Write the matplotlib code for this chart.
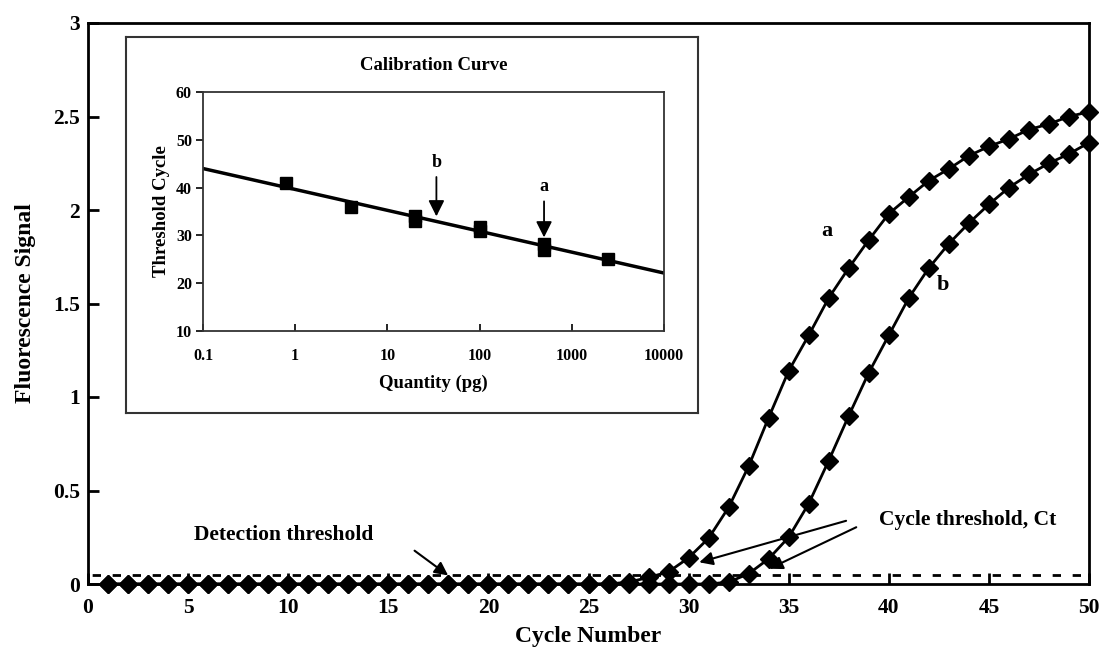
import numpy as np
import matplotlib
matplotlib.use("Agg")
import matplotlib.pyplot as plt

plt.rcParams['font.family'] = ['Liberation Serif', 'DejaVu Serif']
plt.rcParams['font.weight'] = 'bold'
plt.rcParams['lines.scale_dashes'] = False

# ---- data: amplification curves ----
cycles = list(range(1, 51))
curve_a = [0.0] * 26 + [0.01, 0.035, 0.065, 0.14, 0.245, 0.41, 0.63, 0.89, 1.14,
                        1.33, 1.53, 1.69, 1.84, 1.98, 2.07, 2.157, 2.22, 2.29, 2.34,
                        2.38, 2.43, 2.46, 2.50, 2.525]
curve_b = [0.0] * 31 + [0.01, 0.055, 0.135, 0.25, 0.43, 0.66, 0.90, 1.13, 1.33,
                        1.53, 1.69, 1.82, 1.93, 2.03, 2.12, 2.19, 2.25, 2.30, 2.36]
threshold = 0.05

# ---- data: calibration curve ----
quantity = [0.8, 4, 20, 20, 100, 100, 500, 500, 2500]
threshold_cycle = [41, 36, 34, 33, 31.8, 31, 28.2, 27, 25]
quantity_a = 500
quantity_b = 34

x_ticks = [0, 5, 10, 15, 20, 25, 30, 35, 40, 45, 50]
y_ticks = [0, 0.5, 1, 1.5, 2, 2.5, 3]
y_labels = ['0', '0.5', '1', '1.5', '2', '2.5', '3']
inset_x_ticks = [0.1, 1, 10, 100, 1000, 10000]
inset_x_labels = ['0.1', '1', '10', '100', '1000', '10000']
inset_y_ticks = [10, 20, 30, 40, 50, 60]

W, H = 1103, 654
fig = plt.figure(figsize=(W / 100, H / 100), dpi=100)

def fr(x0, y0, x1, y1):
    return [x0 / W, 1 - y1 / H, (x1 - x0) / W, (y1 - y0) / H]

ax = fig.add_axes(fr(88, 23, 1089, 584))
ax.plot(cycles, curve_a, color='black', lw=2, marker='D', ms=9, zorder=3, clip_on=False)
ax.plot(cycles, curve_b, color='black', lw=2, marker='D', ms=9, zorder=3, clip_on=False)
ax.plot([0, 50], [threshold, threshold], color='black', lw=2,
        linestyle=(11.4, (6, 8.4)), zorder=2)
ax.set_xlim(0, 50)
ax.set_ylim(0, 3)
ax.set_xticks(x_ticks)
ax.set_yticks(y_ticks)
ax.set_yticklabels(y_labels)
ax.tick_params(direction='in', length=8, width=2, labelsize=15.5)
ax.tick_params(axis='x', pad=10)
ax.tick_params(axis='y', pad=6)
for s in ax.spines.values():
    s.set_linewidth(2)
ax.set_xlabel('Cycle Number', fontsize=17, fontweight='bold', labelpad=6)
ax.set_ylabel('Fluorescence Signal', fontsize=17, fontweight='bold', labelpad=12)

ax.text(36.9, 1.89, 'a', fontsize=16, ha='center', va='center')
ax.text(42.7, 1.60, 'b', fontsize=16, ha='center', va='center')
ax.text(39.5, 0.342, 'Cycle threshold, Ct', fontsize=15.5, ha='left', va='center')
ax.text(5.3, 0.262, 'Detection threshold', fontsize=15.5, ha='left', va='center')
arrowp = dict(arrowstyle='-|>', color='black', lw=1.5, mutation_scale=20)
ax.annotate('', xy=(18.1, 0.037), xytext=(16.2, 0.187), arrowprops=arrowp)
ax.annotate('', xy=(30.4, 0.112), xytext=(38.0, 0.342), arrowprops=arrowp)
ax.annotate('', xy=(33.9, 0.075), xytext=(38.5, 0.31), arrowprops=arrowp)

# outer inset box
box = fig.add_axes(fr(126, 37, 698, 413))
box.set_xticks([]); box.set_yticks([])
box.set_facecolor('white')
for s in box.spines.values():
    s.set_linewidth(1.5)
    s.set_color('#333333')

# inset calibration axes
ins = fig.add_axes(fr(203, 92, 664, 331))
ins.set_xscale('log')
ins.plot(quantity, threshold_cycle, 's', color='black', ms=8, zorder=3)
coef = np.polyfit(np.log10(quantity), threshold_cycle, 1)
lx = np.array([inset_x_ticks[0], inset_x_ticks[-1]])
ins.plot(lx, coef[0] * np.log10(lx) + coef[1], color='black', lw=2.5)
ins.set_xlim(0.1, 10000)
ins.set_ylim(10, 60)
ins.set_xticks(inset_x_ticks)
ins.set_xticklabels(inset_x_labels)
ins.minorticks_off()
ins.set_yticks(inset_y_ticks)
ins.tick_params(axis='x', direction='in', length=5, width=1.2, labelsize=11.5, pad=12)
ins.tick_params(axis='y', direction='out', length=5, width=1.2, labelsize=11.5, pad=3)
for s in ins.spines.values():
    s.set_linewidth(1.3)
    s.set_color('#333333')
ins.set_xlabel('Quantity (pg)', fontsize=13.5, fontweight='bold', labelpad=8)
ins.set_ylabel('Threshold Cycle', fontsize=13.5, fontweight='bold', labelpad=4)
ins.set_title('Calibration Curve', fontsize=13.5, fontweight='bold', pad=16)

arr2 = dict(arrowstyle='-|>', color='black', lw=1.3, mutation_scale=24)
ins.annotate('', xy=(quantity_b, 33.4), xytext=(quantity_b, 42.8), arrowprops=arr2)
ins.text(quantity_b, 45.3, 'b', fontsize=13, ha='center', va='center')
ins.annotate('', xy=(quantity_a, 29.0), xytext=(quantity_a, 37.7), arrowprops=arr2)
ins.text(quantity_a, 40.3, 'a', fontsize=13, ha='center', va='center')

fig.savefig('out.png', dpi=100)
